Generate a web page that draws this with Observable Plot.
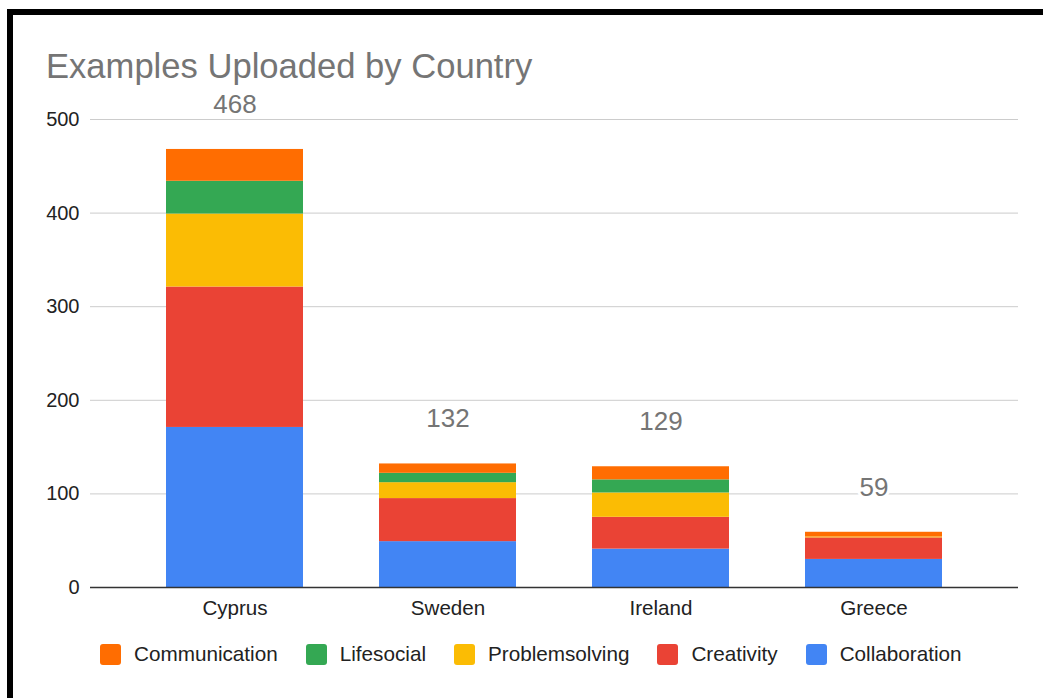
<!DOCTYPE html>
<html>
<head>
<meta charset="utf-8">
<script src="https://cdn.jsdelivr.net/npm/d3@7"></script>
<script src="https://cdn.jsdelivr.net/npm/@observablehq/plot@0.6"></script>
<style>
  html, body { margin: 0; padding: 0; background: #fff; }
  body { width: 1043px; height: 698px; position: relative; overflow: hidden; font-family: "Liberation Sans", Arial, sans-serif; }
  #frame { position: absolute; left: 7px; top: 9px; width: 1100px; height: 760px; border-top: 6px solid #000; border-left: 6px solid #000; box-sizing: border-box; }
  #title { position: absolute; left: 46px; top: 49px; font-size: 34.6px; line-height: 34px; color: #757575; white-space: nowrap; }
  #chart { position: absolute; left: 0; top: 90px; }
  #legend { position: absolute; left: 100px; top: 643px; display: flex; align-items: center; height: 22px; }
  .item { display: flex; align-items: center; margin-right: 28px; font-size: 20.7px; color: #222; line-height: 22px; }
  .sw { width: 21px; height: 21px; border-radius: 3px; margin-right: 13px; }
</style>
</head>
<body>
<div id="frame"></div>
<div id="title">Examples Uploaded by Country</div>
<div id="chart"></div>
<div id="legend"></div>
<script>
const countries = ["Cyprus", "Sweden", "Ireland", "Greece"];
const categories = ["Collaboration", "Creativity", "Problemsolving", "Lifesocial", "Communication"];
const collaboration = [171, 49, 41, 30];
const creativity = [150, 46, 34, 23];
const problemsolving = [78, 17, 26, 1];
const lifesocial = [35, 10, 14, 0];
const communication = [34, 10, 14, 5];
const totals = [468, 132, 129, 59];
const yTicks = [0, 100, 200, 300, 400, 500];
const colors = ["#4285F4", "#EA4335", "#FBBC04", "#34A853", "#FF6D01"];
const legendOrder = ["Communication", "Lifesocial", "Problemsolving", "Creativity", "Collaboration"];

const series = [collaboration, creativity, problemsolving, lifesocial, communication];
const data = [];
countries.forEach((c, i) => {
  categories.forEach((cat, j) => {
    data.push({country: c, category: cat, value: series[j][i]});
  });
});
const totalData = countries.map((c, i) => ({country: c, total: totals[i]}));

const chart = Plot.plot({
  width: 1043,
  height: 545,
  marginTop: 29,
  marginBottom: 48,
  marginLeft: 90,
  marginRight: 25,
  style: {fontFamily: "'Liberation Sans', Arial, sans-serif", fontSize: "20px", color: "#222", background: "transparent"},
  x: {domain: countries, paddingInner: 0.357, paddingOuter: 0.355, label: null},
  y: {domain: [0, 500], label: null},
  color: {domain: categories, range: colors},
  marks: [
    Plot.ruleY(yTicks.filter(d => d > 0), {stroke: "#cccccc", strokeWidth: 1, strokeOpacity: 1}),
    Plot.barY(data, {x: "country", y: "value", fill: "category", order: categories}),
    Plot.ruleY([0], {stroke: "#333", strokeWidth: 1.5}),
    Plot.text(totalData, {x: "country", y: "total", text: d => String(d.total), dy: -45, lineAnchor: "middle", fill: "#757575", fontSize: 26, stroke: "white", strokeWidth: 6}),
    Plot.axisY({ticks: yTicks, tickSize: 0, tickPadding: 11, fontSize: 20, fill: "#222", label: null}),
    Plot.axisX({tickSize: 0, tickPadding: 13, fontSize: 20.6, fill: "#222", label: null})
  ]
});
document.getElementById("chart").appendChild(chart);

const legend = document.getElementById("legend");
legendOrder.forEach(cat => {
  const item = document.createElement("div");
  item.className = "item";
  const sw = document.createElement("div");
  sw.className = "sw";
  sw.style.background = colors[categories.indexOf(cat)];
  const label = document.createElement("span");
  label.textContent = cat;
  item.appendChild(sw);
  item.appendChild(label);
  legend.appendChild(item);
});
</script>
</body>
</html>
